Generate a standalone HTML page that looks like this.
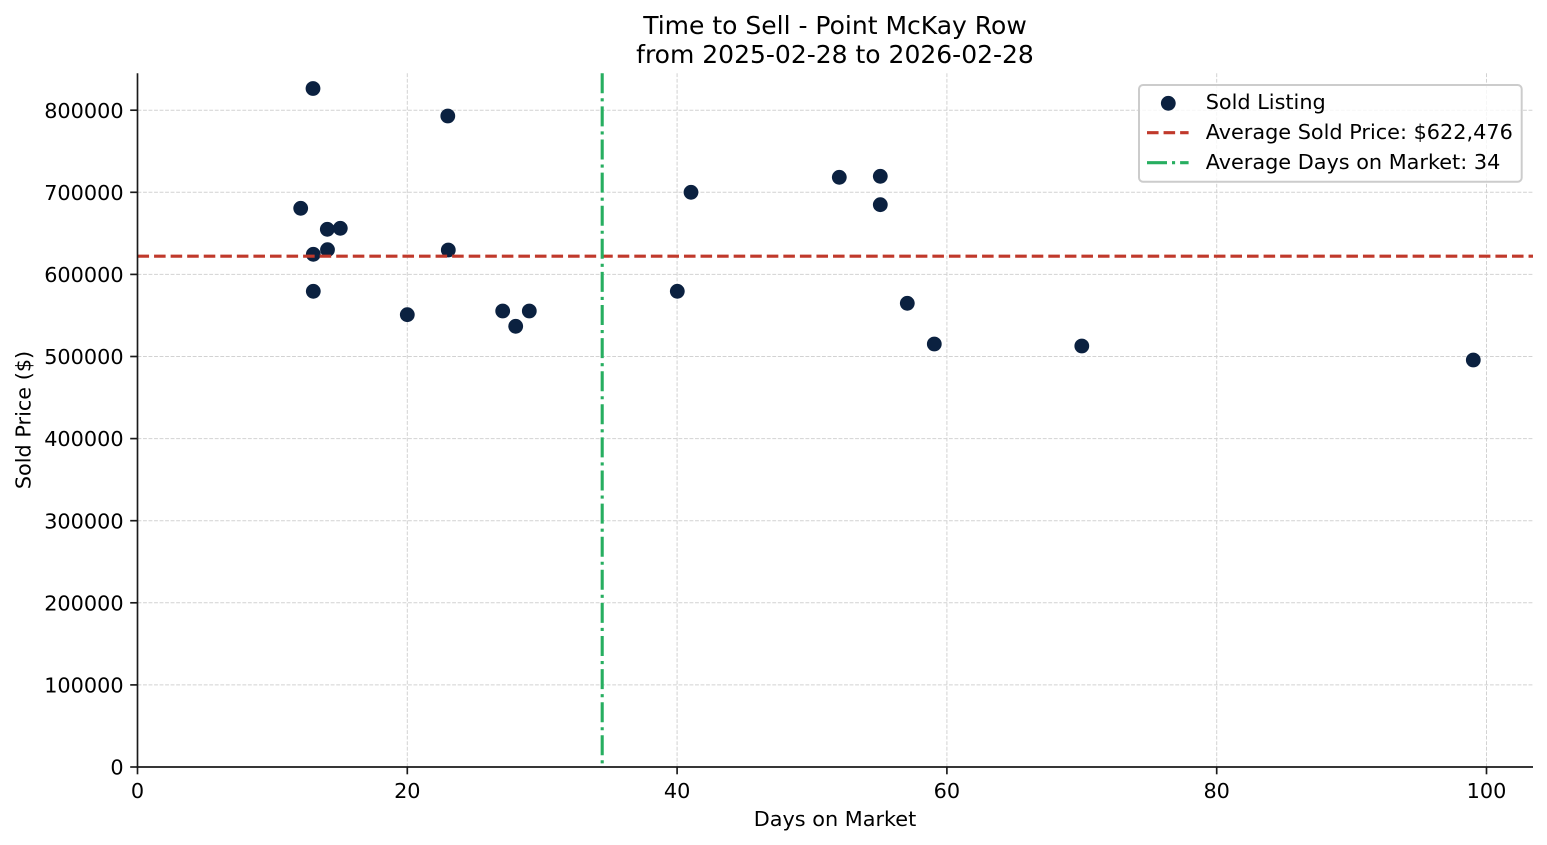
<!DOCTYPE html>
<html>
<head>
<meta charset="utf-8">
<style>
  html, body { margin: 0; padding: 0; background: #ffffff; }
  svg { display: block; }
  text { font-family: "DejaVu Sans", "Liberation Sans", sans-serif; fill: #000; }
</style>
</head>
<body>
<svg width="1547" height="845" viewBox="0 0 1547 845" xmlns="http://www.w3.org/2000/svg">
  <rect x="0" y="0" width="1547" height="845" fill="#ffffff"/>

  <!-- Grid -->
  <g stroke="#d2d2d2" stroke-width="1" stroke-dasharray="3.85 1.67" fill="none">
    <line x1="407.3" y1="73.3" x2="407.3" y2="767"/>
    <line x1="677.1" y1="73.3" x2="677.1" y2="767"/>
    <line x1="946.9" y1="73.3" x2="946.9" y2="767"/>
    <line x1="1216.7" y1="73.3" x2="1216.7" y2="767"/>
    <line x1="1486.5" y1="73.3" x2="1486.5" y2="767"/>
    <line x1="137.5" y1="684.9" x2="1533" y2="684.9"/>
    <line x1="137.5" y1="602.8" x2="1533" y2="602.8"/>
    <line x1="137.5" y1="520.7" x2="1533" y2="520.7"/>
    <line x1="137.5" y1="438.6" x2="1533" y2="438.6"/>
    <line x1="137.5" y1="356.5" x2="1533" y2="356.5"/>
    <line x1="137.5" y1="274.4" x2="1533" y2="274.4"/>
    <line x1="137.5" y1="192.3" x2="1533" y2="192.3"/>
    <line x1="137.5" y1="110.2" x2="1533" y2="110.2"/>
  </g>

  <!-- Scatter points -->
  <g fill="#0b2140">
    <circle cx="313" cy="88.5" r="7.4"/>
    <circle cx="447.8" cy="116" r="7.4"/>
    <circle cx="300.7" cy="208.3" r="7.4"/>
    <circle cx="327.3" cy="229.3" r="7.4"/>
    <circle cx="340.3" cy="228.3" r="7.4"/>
    <circle cx="313.3" cy="254.3" r="7.4"/>
    <circle cx="327.5" cy="249.7" r="7.4"/>
    <circle cx="313.3" cy="291.3" r="7.4"/>
    <circle cx="407.3" cy="314.7" r="7.4"/>
    <circle cx="448.3" cy="250" r="7.4"/>
    <circle cx="502.7" cy="311" r="7.4"/>
    <circle cx="515.7" cy="326.3" r="7.4"/>
    <circle cx="529.3" cy="311" r="7.4"/>
    <circle cx="691" cy="192.3" r="7.4"/>
    <circle cx="677.3" cy="291.3" r="7.4"/>
    <circle cx="839.3" cy="177.3" r="7.4"/>
    <circle cx="880.3" cy="176.3" r="7.4"/>
    <circle cx="880.3" cy="204.7" r="7.4"/>
    <circle cx="907.3" cy="303.3" r="7.4"/>
    <circle cx="934.3" cy="344" r="7.4"/>
    <circle cx="1081.8" cy="346" r="7.4"/>
    <circle cx="1473.3" cy="360" r="7.4"/>
  </g>

  <!-- Average lines -->
  <line x1="137.5" y1="256.2" x2="1533" y2="256.2" stroke="#c0392b" stroke-width="3.1" stroke-dasharray="11.56 5"/>
  <line x1="602.2" y1="73.3" x2="602.2" y2="767" stroke="#27ae60" stroke-width="3.1" stroke-dasharray="20 5 3.1 5"/>

  <!-- Spines -->
  <g stroke="#1a1a1a" stroke-width="1.67" fill="none">
    <line x1="137.5" y1="73.3" x2="137.5" y2="767.8"/>
    <line x1="136.7" y1="767" x2="1533" y2="767"/>
  </g>

  <!-- Ticks -->
  <g stroke="#1a1a1a" stroke-width="1.67">
    <line x1="137.5" y1="767" x2="137.5" y2="774.3"/>
    <line x1="407.3" y1="767" x2="407.3" y2="774.3"/>
    <line x1="677.1" y1="767" x2="677.1" y2="774.3"/>
    <line x1="946.9" y1="767" x2="946.9" y2="774.3"/>
    <line x1="1216.7" y1="767" x2="1216.7" y2="774.3"/>
    <line x1="1486.5" y1="767" x2="1486.5" y2="774.3"/>

    <line x1="130.2" y1="767" x2="137.5" y2="767"/>
    <line x1="130.2" y1="684.9" x2="137.5" y2="684.9"/>
    <line x1="130.2" y1="602.8" x2="137.5" y2="602.8"/>
    <line x1="130.2" y1="520.7" x2="137.5" y2="520.7"/>
    <line x1="130.2" y1="438.6" x2="137.5" y2="438.6"/>
    <line x1="130.2" y1="356.5" x2="137.5" y2="356.5"/>
    <line x1="130.2" y1="274.4" x2="137.5" y2="274.4"/>
    <line x1="130.2" y1="192.3" x2="137.5" y2="192.3"/>
    <line x1="130.2" y1="110.2" x2="137.5" y2="110.2"/>
  </g>

  <!-- X tick labels -->
  <g font-size="20.8" text-anchor="middle">
    <text x="137.5" y="798">0</text>
    <text x="407.3" y="798">20</text>
    <text x="677.1" y="798">40</text>
    <text x="946.9" y="798">60</text>
    <text x="1216.7" y="798">80</text>
    <text x="1486.5" y="798">100</text>
  </g>

  <!-- Y tick labels -->
  <g font-size="20.8" text-anchor="end">
    <text x="123.6" y="774.6">0</text>
    <text x="123.6" y="692.5">100000</text>
    <text x="123.6" y="610.4">200000</text>
    <text x="123.6" y="528.3">300000</text>
    <text x="123.6" y="446.2">400000</text>
    <text x="123.6" y="364.1">500000</text>
    <text x="123.6" y="282">600000</text>
    <text x="123.6" y="199.9">700000</text>
    <text x="123.6" y="117.8">800000</text>
  </g>

  <!-- Axis labels -->
  <text x="835" y="826" font-size="20.8" text-anchor="middle">Days on Market</text>
  <text transform="translate(30.5,420) rotate(-90)" font-size="20.8" text-anchor="middle">Sold Price ($)</text>

  <!-- Title -->
  <text x="835" y="34" font-size="25" text-anchor="middle">Time to Sell - Point McKay Row</text>
  <text x="835" y="63" font-size="25" text-anchor="middle">from 2025-02-28 to 2026-02-28</text>

  <!-- Legend -->
  <rect x="1139" y="85" width="382.7" height="96.7" rx="4" ry="4" fill="#ffffff" fill-opacity="0.8" stroke="#cccccc" stroke-width="2"/>
  <circle cx="1168.3" cy="103.3" r="7.4" fill="#0b2140"/>
  <line x1="1147" y1="132.7" x2="1188.6" y2="132.7" stroke="#c0392b" stroke-width="3.1" stroke-dasharray="11.56 5"/>
  <line x1="1147" y1="162.7" x2="1188.6" y2="162.7" stroke="#27ae60" stroke-width="3.1" stroke-dasharray="20 5 3.1 5"/>
  <g font-size="20.8">
    <text x="1205.7" y="108.8">Sold Listing</text>
    <text x="1205.7" y="138.8">Average Sold Price: $622,476</text>
    <text x="1205.7" y="168.8">Average Days on Market: 34</text>
  </g>
</svg>
</body>
</html>
